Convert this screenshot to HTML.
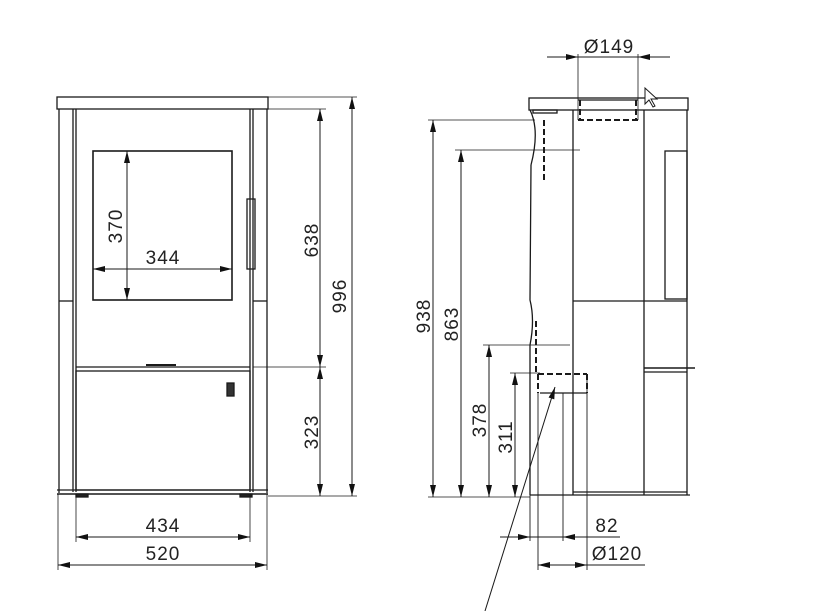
<!DOCTYPE html>
<html><head><meta charset="utf-8"><style>
html,body{margin:0;padding:0;background:#fff;}
svg{display:block;}
text{font-family:"Liberation Sans",sans-serif;font-size:19px;fill:#222;letter-spacing:1px;}
</style></head><body>
<svg width="817" height="611" viewBox="0 0 817 611" xmlns="http://www.w3.org/2000/svg">
<defs>
<marker id="a" viewBox="0 0 12 6" refX="12" refY="3" markerWidth="13" markerHeight="6" orient="auto-start-reverse" markerUnits="userSpaceOnUse"><path d="M0,0 L12,3 L0,6 Z" fill="#111"/></marker>
</defs>
<g stroke="#1a1a1a" stroke-width="1.3" fill="none">
<!-- FRONT VIEW -->
<rect x="57" y="97" width="211" height="12"/>
<line x1="59" y1="109" x2="59" y2="493"/>
<line x1="267" y1="109" x2="267" y2="493"/>
<line x1="73" y1="109" x2="73" y2="492"/>
<line x1="76" y1="109" x2="76" y2="492"/>
<line x1="250" y1="109" x2="250" y2="492"/>
<line x1="253" y1="109" x2="253" y2="492"/>
<line x1="59" y1="301" x2="73" y2="301"/>
<line x1="253" y1="301" x2="267" y2="301"/>
<rect x="93" y="151" width="139" height="149" stroke-width="1.6"/>
<rect x="247" y="199" width="8" height="70"/>
<line x1="76" y1="367" x2="250" y2="367"/>
<line x1="146" y1="365" x2="176" y2="365" stroke-width="2"/>
<rect x="76" y="371" width="174" height="119"/>
<rect x="227" y="383" width="7" height="13" fill="#333"/>
<line x1="57" y1="490" x2="268" y2="490"/>
<line x1="57" y1="494" x2="268" y2="494" stroke-width="1.6"/>
<rect x="76" y="494" width="12" height="3" fill="#222"/>
<rect x="240" y="494" width="12" height="3" fill="#222"/>
<!-- front dims -->
<line x1="268" y1="97" x2="357" y2="97" stroke-width="0.8"/>
<line x1="253" y1="109" x2="326" y2="109" stroke-width="0.8"/>
<line x1="253" y1="367" x2="326" y2="367" stroke-width="0.8"/>
<line x1="268" y1="496" x2="357" y2="496" stroke-width="0.8"/>
<line x1="352" y1="97" x2="352" y2="496" marker-start="url(#a)" marker-end="url(#a)" stroke-width="1"/>
<line x1="320" y1="109" x2="320" y2="367" marker-start="url(#a)" marker-end="url(#a)" stroke-width="1"/>
<line x1="320" y1="367" x2="320" y2="496" marker-start="url(#a)" marker-end="url(#a)" stroke-width="1"/>
<line x1="127" y1="151" x2="127" y2="300" marker-start="url(#a)" marker-end="url(#a)" stroke-width="1"/>
<line x1="93" y1="269" x2="232" y2="269" marker-start="url(#a)" marker-end="url(#a)" stroke-width="1"/>
<line x1="58" y1="494" x2="58" y2="570" stroke-width="0.8"/>
<line x1="267" y1="494" x2="267" y2="570" stroke-width="0.8"/>
<line x1="76" y1="494" x2="76" y2="542" stroke-width="0.8"/>
<line x1="250" y1="494" x2="250" y2="542" stroke-width="0.8"/>
<line x1="76" y1="537" x2="250" y2="537" marker-start="url(#a)" marker-end="url(#a)" stroke-width="1"/>
<line x1="58" y1="565" x2="267" y2="565" marker-start="url(#a)" marker-end="url(#a)" stroke-width="1"/>

<!-- SIDE VIEW -->
<rect x="529" y="98" width="159" height="12"/>
<rect x="533" y="110" width="24" height="3"/>
<path d="M530,110 Q540,130 531,165"/>
<path d="M531,165 L530,300 Q535,320 530,345 L530,495"/>
<line x1="573" y1="110" x2="573" y2="495"/>
<line x1="644" y1="110" x2="644" y2="495"/>
<line x1="687" y1="110" x2="687" y2="495"/>
<line x1="573" y1="301" x2="644" y2="301"/>
<line x1="644" y1="301" x2="687" y2="301"/>
<rect x="665" y="151" width="22" height="148"/>
<line x1="644" y1="368" x2="695" y2="368" stroke-width="1.6"/>
<line x1="644" y1="372" x2="687" y2="372"/>
<line x1="530" y1="495" x2="690" y2="495"/>
<line x1="573" y1="492" x2="687" y2="492"/>
<line x1="578" y1="54" x2="578" y2="120" stroke-width="0.8"/>
<line x1="638" y1="54" x2="638" y2="120" stroke-width="0.8"/>
<line x1="547" y1="57" x2="578" y2="57" marker-end="url(#a)" stroke-width="1"/>
<line x1="670" y1="57" x2="638" y2="57" marker-end="url(#a)" stroke-width="1"/>
<line x1="578" y1="57" x2="638" y2="57" stroke-width="1"/>
<line x1="578" y1="100" x2="638" y2="100"/>
<g stroke-dasharray="6,3" stroke-width="2">
<line x1="578" y1="120" x2="638" y2="120"/>
<line x1="580" y1="100" x2="580" y2="120"/>
<line x1="636" y1="100" x2="636" y2="120"/>
<line x1="544" y1="120" x2="544" y2="182"/>
<line x1="536" y1="321" x2="536" y2="373"/>
<line x1="538" y1="374" x2="587" y2="374"/>
<line x1="538" y1="374" x2="538" y2="393"/>
<line x1="587" y1="374" x2="587" y2="393"/>
</g>
<path d="M645,88 L645,104 L649,100 L653,107 L655,106 L651,99 L657,99 Z" stroke-width="1" fill="#fff"/>
<line x1="540" y1="393" x2="587" y2="393"/>
<line x1="538" y1="393" x2="538" y2="570" stroke-width="0.9"/>
<line x1="587" y1="374" x2="587" y2="570" stroke-width="0.9"/>
<line x1="563" y1="393" x2="563" y2="541" stroke-width="0.9"/>
<line x1="530" y1="495" x2="530" y2="541" stroke-width="0.9"/>
<!-- side dims -->
<line x1="428" y1="120" x2="535" y2="120" stroke-width="0.8"/>
<line x1="455" y1="150" x2="580" y2="150" stroke-width="0.8"/>
<line x1="483" y1="345" x2="570" y2="345" stroke-width="0.8"/>
<line x1="510" y1="373" x2="540" y2="373" stroke-width="0.8"/>
<line x1="428" y1="497" x2="530" y2="497" stroke-width="0.8"/>
<line x1="433" y1="120" x2="433" y2="497" marker-start="url(#a)" marker-end="url(#a)" stroke-width="1"/>
<line x1="461" y1="150" x2="461" y2="497" marker-start="url(#a)" marker-end="url(#a)" stroke-width="1"/>
<line x1="489" y1="345" x2="489" y2="497" marker-start="url(#a)" marker-end="url(#a)" stroke-width="1"/>
<line x1="515" y1="373" x2="515" y2="497" marker-start="url(#a)" marker-end="url(#a)" stroke-width="1"/>
<line x1="500" y1="537" x2="530" y2="537" marker-end="url(#a)" stroke-width="1"/>
<line x1="530" y1="537" x2="563" y2="537" stroke-width="1"/>
<line x1="587" y1="537" x2="563" y2="537" marker-end="url(#a)" stroke-width="1"/>
<line x1="587" y1="537" x2="620" y2="537" stroke-width="1"/>
<line x1="538" y1="565" x2="587" y2="565" marker-start="url(#a)" marker-end="url(#a)" stroke-width="1"/>
<line x1="587" y1="565" x2="645" y2="565" stroke-width="1"/>
<line x1="485" y1="611" x2="555" y2="387" marker-end="url(#a)" stroke-width="1"/>
</g>
<!-- texts -->
<text x="163" y="264" text-anchor="middle">344</text>
<text transform="translate(122,226) rotate(-90)" text-anchor="middle">370</text>
<text transform="translate(318,240) rotate(-90)" text-anchor="middle">638</text>
<text transform="translate(346,296) rotate(-90)" text-anchor="middle">996</text>
<text transform="translate(318,432) rotate(-90)" text-anchor="middle">323</text>
<text x="163" y="532" text-anchor="middle">434</text>
<text x="163" y="560" text-anchor="middle">520</text>
<text x="609" y="53" text-anchor="middle">Ø149</text>
<text transform="translate(430,316) rotate(-90)" text-anchor="middle">938</text>
<text transform="translate(458,324) rotate(-90)" text-anchor="middle">863</text>
<text transform="translate(486,420) rotate(-90)" text-anchor="middle">378</text>
<text transform="translate(512,437) rotate(-90)" text-anchor="middle">311</text>
<text x="607" y="532" text-anchor="middle">82</text>
<text x="617" y="560" text-anchor="middle">Ø120</text>
</svg>
</body></html>
